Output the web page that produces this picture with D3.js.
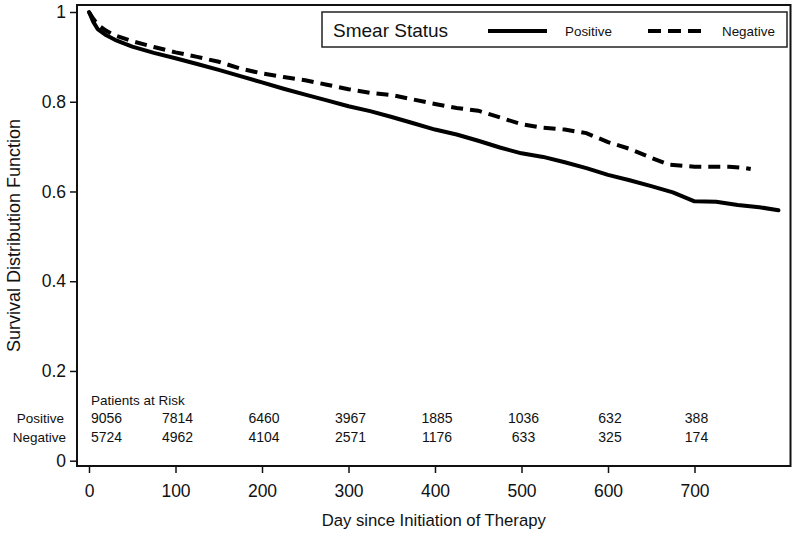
<!DOCTYPE html>
<html>
<head>
<meta charset="utf-8">
<script src="https://cdn.jsdelivr.net/npm/d3@7"></script>
<style>
  body { margin: 0; background: #fff; }
  text { font-family: Arial, "Liberation Sans", sans-serif; fill: #111; }
</style>
</head>
<body>
<svg id="chart" width="798" height="541"></svg>
<script>
// survival estimates (day, survival)
const positiveDays = [0, 5, 10, 20, 30, 50, 75, 100, 125, 150, 175, 200, 225, 250, 275, 300, 325, 350, 375, 400, 425, 450, 475, 500, 525, 550, 575, 600, 625, 650, 675, 700, 725, 750, 775, 797];
const positiveSurv = [1.0, 0.978, 0.962, 0.948, 0.938, 0.923, 0.909, 0.897, 0.884, 0.871, 0.857, 0.843, 0.829, 0.816, 0.803, 0.79, 0.779, 0.766, 0.752, 0.738, 0.727, 0.713, 0.698, 0.685, 0.677, 0.665, 0.652, 0.637, 0.625, 0.612, 0.598, 0.578, 0.577, 0.57, 0.565, 0.558];

const negativeDays = [0, 5, 10, 20, 30, 50, 75, 100, 125, 150, 175, 200, 225, 250, 275, 300, 325, 350, 375, 400, 425, 450, 475, 500, 525, 550, 575, 600, 625, 650, 670, 700, 740, 755, 765];
const negativeSurv = [1.0, 0.985, 0.972, 0.958, 0.948, 0.935, 0.922, 0.91, 0.9, 0.889, 0.874, 0.863, 0.855, 0.848, 0.838, 0.828, 0.82, 0.815, 0.805, 0.795, 0.786, 0.78, 0.765, 0.75, 0.742, 0.738, 0.73, 0.71, 0.695, 0.675, 0.66, 0.655, 0.655, 0.653, 0.65];

// patients at risk table
const riskDays = [0, 100, 200, 300, 400, 500, 600, 700];
const riskPositive = [9056, 7814, 6460, 3967, 1885, 1036, 632, 388];
const riskNegative = [5724, 4962, 4104, 2571, 1176, 633, 325, 174];

const xTicks = [0, 100, 200, 300, 400, 500, 600, 700];
const yTicks = [0, 0.2, 0.4, 0.6, 0.8, 1];

const svg = d3.select("#chart");

const frame = { left: 77, right: 790.5, top: 5, bottom: 466 };

const x = d3.scaleLinear().domain([0, 700]).range([89, 694.5]);
const y = d3.scaleLinear().domain([0, 1]).range([460.7, 12]);

// plot frame
svg.append("rect")
  .attr("x", frame.left)
  .attr("y", frame.top)
  .attr("width", frame.right - frame.left)
  .attr("height", frame.bottom - frame.top)
  .attr("fill", "none")
  .attr("stroke", "#111")
  .attr("stroke-width", 2);

// y axis
const yAxis = svg.append("g")
  .attr("transform", `translate(${frame.left},0)`)
  .call(d3.axisLeft(y).tickValues(yTicks).tickFormat(d3.format("~g")).tickSize(7).tickPadding(4));
yAxis.select(".domain").remove();
yAxis.selectAll("line").attr("stroke", "#111").attr("stroke-width", 1.5);
yAxis.selectAll("text").style("font-size", "17.5px").attr("fill", "#111").attr("font-family", null);

// x axis
const xAxis = svg.append("g")
  .attr("transform", `translate(0,${frame.bottom})`)
  .call(d3.axisBottom(x).tickValues(xTicks).tickSize(7).tickPadding(12));
xAxis.select(".domain").remove();
xAxis.selectAll("line").attr("stroke", "#111").attr("stroke-width", 1.5);
xAxis.selectAll("text").style("font-size", "17.5px").attr("fill", "#111").attr("font-family", null);

// axis labels
svg.append("text")
  .attr("x", (frame.left + frame.right) / 2)
  .attr("y", 526)
  .attr("text-anchor", "middle")
  .style("font-size", "16.7px")
  .text("Day since Initiation of Therapy");

svg.append("text")
  .attr("transform", `translate(20,${(frame.top + frame.bottom) / 2}) rotate(-90)`)
  .attr("text-anchor", "middle")
  .style("font-size", "18px")
  .text("Survival Distribution Function");

// curves
const line = d3.line()
  .x((d) => x(d[0]))
  .y((d) => y(d[1]));

const positive = d3.zip(positiveDays, positiveSurv);
const negative = d3.zip(negativeDays, negativeSurv);

svg.append("path")
  .datum(negative)
  .attr("d", line)
  .attr("fill", "none")
  .attr("stroke", "#000")
  .attr("stroke-width", 4)
  .attr("stroke-dasharray", "12,7");

svg.append("path")
  .datum(positive)
  .attr("d", line)
  .attr("fill", "none")
  .attr("stroke", "#000")
  .attr("stroke-width", 4)
  .attr("stroke-linecap", "round")
  .attr("stroke-linejoin", "round");

// legend
const legend = svg.append("g");
legend.append("rect")
  .attr("x", 322)
  .attr("y", 12)
  .attr("width", 465)
  .attr("height", 35)
  .attr("fill", "#fff")
  .attr("stroke", "#222")
  .attr("stroke-width", 1.5);
legend.append("text")
  .attr("x", 333)
  .attr("y", 37)
  .style("font-size", "19px")
  .text("Smear Status");
legend.append("line")
  .attr("x1", 488).attr("x2", 547)
  .attr("y1", 31).attr("y2", 31)
  .attr("stroke", "#000").attr("stroke-width", 4);
legend.append("text")
  .attr("x", 565)
  .attr("y", 36)
  .style("font-size", "13.4px")
  .text("Positive");
legend.append("line")
  .attr("x1", 648).attr("x2", 701)
  .attr("y1", 31).attr("y2", 31)
  .attr("stroke", "#000").attr("stroke-width", 4)
  .attr("stroke-dasharray", "13,7");
legend.append("text")
  .attr("x", 722)
  .attr("y", 36)
  .style("font-size", "13.4px")
  .text("Negative");

// patients at risk
const risk = svg.append("g").style("font-size", "14px");
risk.append("text")
  .attr("x", x(0) + 2)
  .attr("y", 405)
  .style("font-size", "13.5px")
  .text("Patients at Risk");
risk.append("text")
  .attr("x", 64)
  .attr("y", 423)
  .attr("text-anchor", "end")
  .style("font-size", "13.5px")
  .text("Positive");
risk.append("text")
  .attr("x", 66)
  .attr("y", 442)
  .attr("text-anchor", "end")
  .style("font-size", "13.5px")
  .text("Negative");

const rows = [
  { values: riskPositive, yPos: 423 },
  { values: riskNegative, yPos: 442 },
];
rows.forEach((row) => {
  risk.selectAll(null)
    .data(d3.zip(riskDays, row.values))
    .enter()
    .append("text")
    .attr("x", (d) => x(d[0]) + 2)
    .attr("y", row.yPos)
    .attr("text-anchor", (d, i) => (i === 0 ? "start" : "middle"))
    .text((d) => d[1]);
});
</script>
</body>
</html>
